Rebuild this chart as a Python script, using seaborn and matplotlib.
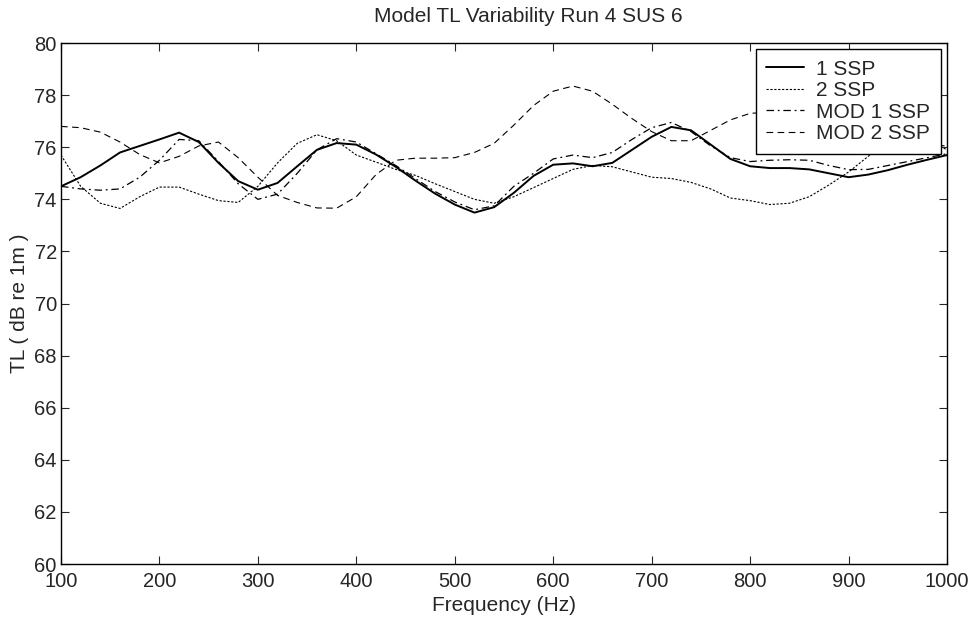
import pandas as pd
import matplotlib
matplotlib.use("Agg")
import matplotlib.pyplot as plt
import seaborn as sns

# Frequency grid (Hz) and TL values
freq = list(range(100, 1001, 20))

tl_1ssp = [74.5, 74.85, 75.3, 75.8, 76.05, 76.3, 76.56, 76.2, 75.4, 74.7,
           74.37, 74.63, 75.27, 75.9, 76.16, 76.1, 75.72, 75.25, 74.72, 74.22,
           73.8, 73.49, 73.7, 74.25, 74.9, 75.33, 75.38, 75.27, 75.4, 75.9,
           76.4, 76.78, 76.65, 76.1, 75.55, 75.27, 75.2, 75.2, 75.15, 75.0,
           74.85, 74.95, 75.12, 75.33, 75.52, 75.7]

tl_2ssp = [75.7, 74.5, 73.85, 73.65, 74.1, 74.47, 74.47, 74.2, 73.95, 73.88,
           74.5, 75.4, 76.15, 76.48, 76.25, 75.7, 75.43, 75.15, 74.92, 74.6,
           74.3, 74.0, 73.85, 74.1, 74.45, 74.8, 75.15, 75.3, 75.25, 75.05,
           74.85, 74.8, 74.65, 74.4, 74.05, 73.95, 73.8, 73.85, 74.1, 74.55,
           75.05, 75.65, 76.3, 76.5, 76.3, 75.9]

tl_mod1 = [74.5, 74.4, 74.35, 74.4, 74.85, 75.5, 76.3, 76.25, 75.45, 74.6,
           74.0, 74.2, 75.0, 75.9, 76.33, 76.2, 75.75, 75.3, 74.8, 74.3,
           73.9, 73.6, 73.75, 74.5, 75.0, 75.55, 75.7, 75.6, 75.8, 76.3,
           76.75, 76.95, 76.6, 76.05, 75.6, 75.45, 75.5, 75.52, 75.5, 75.3,
           75.14, 75.15, 75.3, 75.45, 75.6, 75.75]

tl_mod2 = [76.8, 76.75, 76.58, 76.2, 75.72, 75.4, 75.65, 76.05, 76.2, 75.6,
           74.85, 74.15, 73.88, 73.67, 73.66, 74.1, 74.95, 75.5, 75.58, 75.58,
           75.6, 75.8, 76.15, 76.85, 77.6, 78.15, 78.35, 78.15, 77.65, 77.1,
           76.6, 76.25, 76.25, 76.65, 77.05, 77.3, 77.35, 77.2, 77.0, 76.8,
           76.6, 76.45, 76.3, 76.2, 76.1, 76.05]

series = [
    ("1 SSP", tl_1ssp, "-", 1.4),
    ("2 SSP", tl_2ssp, (0, (2, 1.5)), 0.8),
    ("MOD 1 SSP", tl_mod1, (0, (6, 3, 1.5, 3)), 0.9),
    ("MOD 2 SSP", tl_mod2, (0, (6, 4)), 0.8),
]

sns.set_style("ticks")
plt.rcParams["font.family"] = ["Liberation Sans", "DejaVu Sans"]

fig = plt.figure(figsize=(9.74, 6.22), dpi=100)
ax = fig.add_axes([0.0626, 0.0932, 0.9097, 0.8376])

for name, vals, ls, lw in series:
    sns.lineplot(x=freq, y=vals, ax=ax, color="black", linestyle=ls,
                 linewidth=lw, label=name)

ax.set_xlim(100, 1000)
ax.set_ylim(60, 80)
ax.set_xticks(range(100, 1001, 100))
ax.set_yticks(range(60, 81, 2))
ax.tick_params(direction="in", top=True, right=True, labelsize=14.5,
               length=6, width=0.8)
ax.tick_params(axis="x", pad=6)
ax.tick_params(axis="y", pad=3)
for sp in ax.spines.values():
    sp.set_visible(True)
    sp.set_color("black")
    sp.set_linewidth(1.0)

ax.set_title("Model TL Variability Run 4 SUS 6", fontsize=15, pad=15,
             x=0.527)
ax.set_xlabel("Frequency (Hz)", fontsize=15, labelpad=3)
ax.set_ylabel("TL ( dB re 1m )", fontsize=15, labelpad=4)

leg = ax.legend(loc="upper right", fontsize=15, frameon=True,
                fancybox=False, framealpha=1, edgecolor="black",
                borderaxespad=0.3, handlelength=1.8, handletextpad=0.6,
                labelspacing=0.12, borderpad=0.5)
leg.get_frame().set_linewidth(1.0)

fig.savefig("out.png", dpi=100)
